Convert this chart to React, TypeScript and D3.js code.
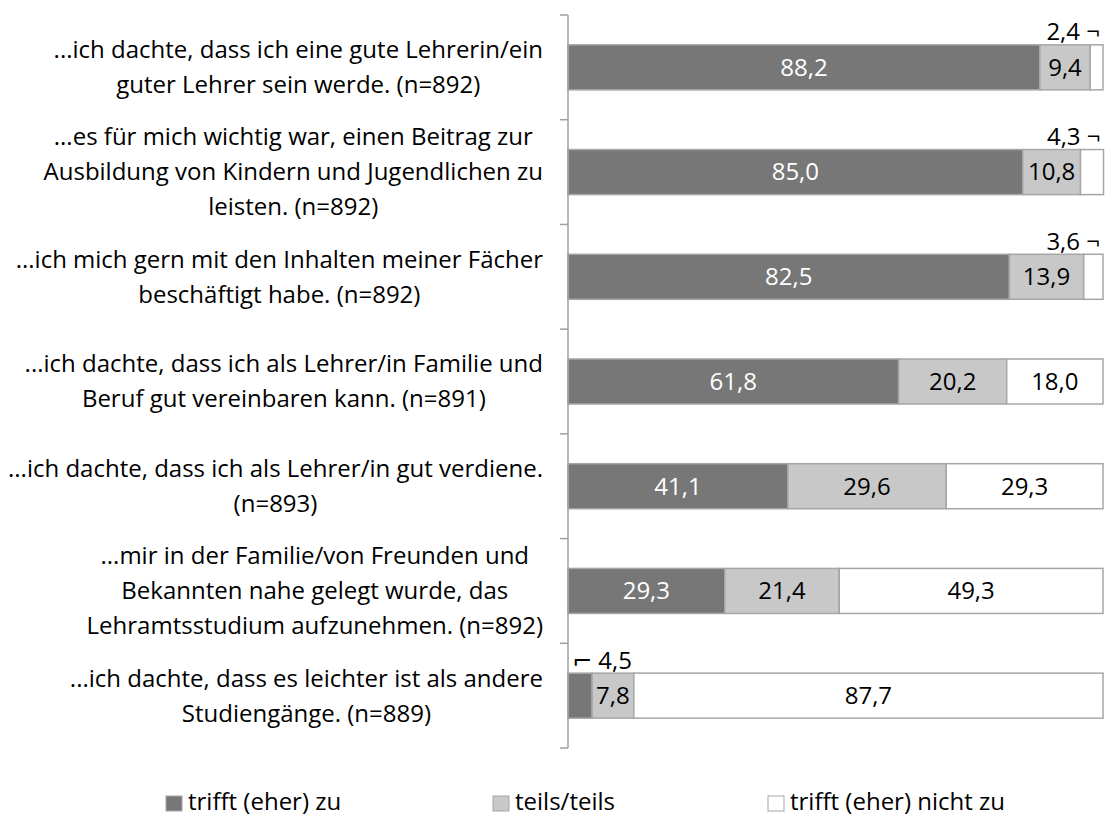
import { scaleBand, scaleLinear } from "d3";

const labels: string[][] = [
  ["...ich dachte, dass ich eine gute Lehrerin/ein", "guter Lehrer sein werde. (n=892)"],
  ["...es für mich wichtig war, einen Beitrag zur", "Ausbildung von Kindern und Jugendlichen zu", "leisten. (n=892)"],
  ["...ich mich gern mit den Inhalten meiner Fächer", "beschäftigt habe. (n=892)"],
  ["...ich dachte, dass ich als Lehrer/in Familie und", "Beruf gut vereinbaren kann. (n=891)"],
  ["...ich dachte, dass ich als Lehrer/in gut verdiene.", "(n=893)"],
  ["...mir in der Familie/von Freunden und", "Bekannten nahe gelegt wurde, das", "Lehramtsstudium aufzunehmen. (n=892)"],
  ["...ich dachte, dass es leichter ist als andere", "Studiengänge. (n=889)"],
];
const zu = [88.2, 85.0, 82.5, 61.8, 41.1, 29.3, 4.5];
const teils = [9.4, 10.8, 13.9, 20.2, 29.6, 21.4, 7.8];
const nicht = [2.4, 4.3, 3.6, 18.0, 29.3, 49.3, 87.7];
const seriesNames = ["trifft (eher) zu", "teils/teils", "trifft (eher) nicht zu"];

const W = 1105;
const H = 816;
const font = "'Open Sans', 'DejaVu Sans', sans-serif";
const fs = 24;
const colors = ["#777777", "#c8c8c8", "#ffffff"];
const textColors = ["#ffffff", "#000000", "#000000"];
const fmt = (v: number) => v.toFixed(1).replace(".", ",");

let ctx: CanvasRenderingContext2D | null = null;
const measure = (s: string) => {
  if (!ctx) ctx = document.createElement("canvas").getContext("2d");
  if (!ctx) return s.length * 12;
  ctx.font = `${fs}px ${font}`;
  return ctx.measureText(s).width;
};

export default function App() {
  const axisX = 568;
  const labelRight = 543;
  const x = scaleLinear().domain([0, 100]).range([axisX, 1103]);
  const y = scaleBand<number>()
    .domain(labels.map((_, i) => i))
    .range([15, 748])
    .paddingInner(0.57)
    .paddingOuter(0.285);
  const step = y.step();
  const lineH = 35;
  const series = [zu, teils, nicht];

  return (
    <svg
      width={W}
      height={H}
      style={{ position: "absolute", left: 0, top: 0, background: "#fff" }}
      fontFamily={font}
    >
      {/* category labels */}
      {labels.map((lines, i) => {
        const maxW = Math.max(...lines.map(measure));
        const cx = labelRight - maxW / 2;
        const cy = (y(i) || 0) + y.bandwidth() / 2;
        return (
          <text key={i} fontSize={fs} fill="#000" textAnchor="middle">
            {lines.map((l, j) => (
              <tspan
                key={j}
                x={cx}
                y={cy + (j - (lines.length - 1) / 2) * lineH}
                dy="0.35em"
              >
                {l}
              </tspan>
            ))}
          </text>
        );
      })}

      {/* bars */}
      {labels.map((_, i) => {
        let acc = 0;
        const by = y(i) || 0;
        const bh = y.bandwidth();
        return (
          <g key={i}>
            {series.map((s, k) => {
              const v = s[i];
              const x0 = x(acc);
              const x1 = x(acc + v);
              acc += v;
              const small = v < 5;
              return (
                <g key={k}>
                  <rect
                    x={x0}
                    y={by}
                    width={x1 - x0}
                    height={bh}
                    fill={colors[k]}
                    stroke="#a6a6a6"
                    strokeWidth={1.5}
                  />
                  {!small && (
                    <text
                      x={(x0 + x1) / 2}
                      y={by + bh / 2}
                      dy="0.35em"
                      textAnchor="middle"
                      fontSize={fs}
                      fill={textColors[k]}
                    >
                      {fmt(v)}
                    </text>
                  )}
                  {small && k === 2 && (
                    <text
                      x={x1 - 3}
                      y={by - 13}
                      dy="0.35em"
                      textAnchor="end"
                      fontSize={fs}
                      fill="#000"
                    >
                      {fmt(v) + " ¬"}
                    </text>
                  )}
                  {small && k === 0 && (
                    <text
                      x={x0 + 4}
                      y={by - 13}
                      dy="0.35em"
                      textAnchor="start"
                      fontSize={fs}
                      fill="#000"
                    >
                      {"⌐ " + fmt(v)}
                    </text>
                  )}
                </g>
              );
            })}
          </g>
        );
      })}

      {/* axis */}
      <line x1={axisX} x2={axisX} y1={15} y2={748} stroke="#a0a0a0" strokeWidth={1.5} />
      {labels.concat([[]]).map((_, i) => (
        <line
          key={i}
          x1={axisX - 8}
          x2={axisX}
          y1={15 + i * step}
          y2={15 + i * step}
          stroke="#a0a0a0"
          strokeWidth={1.5}
        />
      ))}

      {/* legend */}
      {seriesNames.map((n, k) => {
        const lx = [166, 493, 768][k];
        return (
          <g key={k}>
            <rect x={lx} y={796} width={16} height={15} fill={colors[k]} stroke="#a6a6a6" />
            <text x={lx + 22} y={810} fontSize={fs} fill="#000">
              {n}
            </text>
          </g>
        );
      })}
    </svg>
  );
}
